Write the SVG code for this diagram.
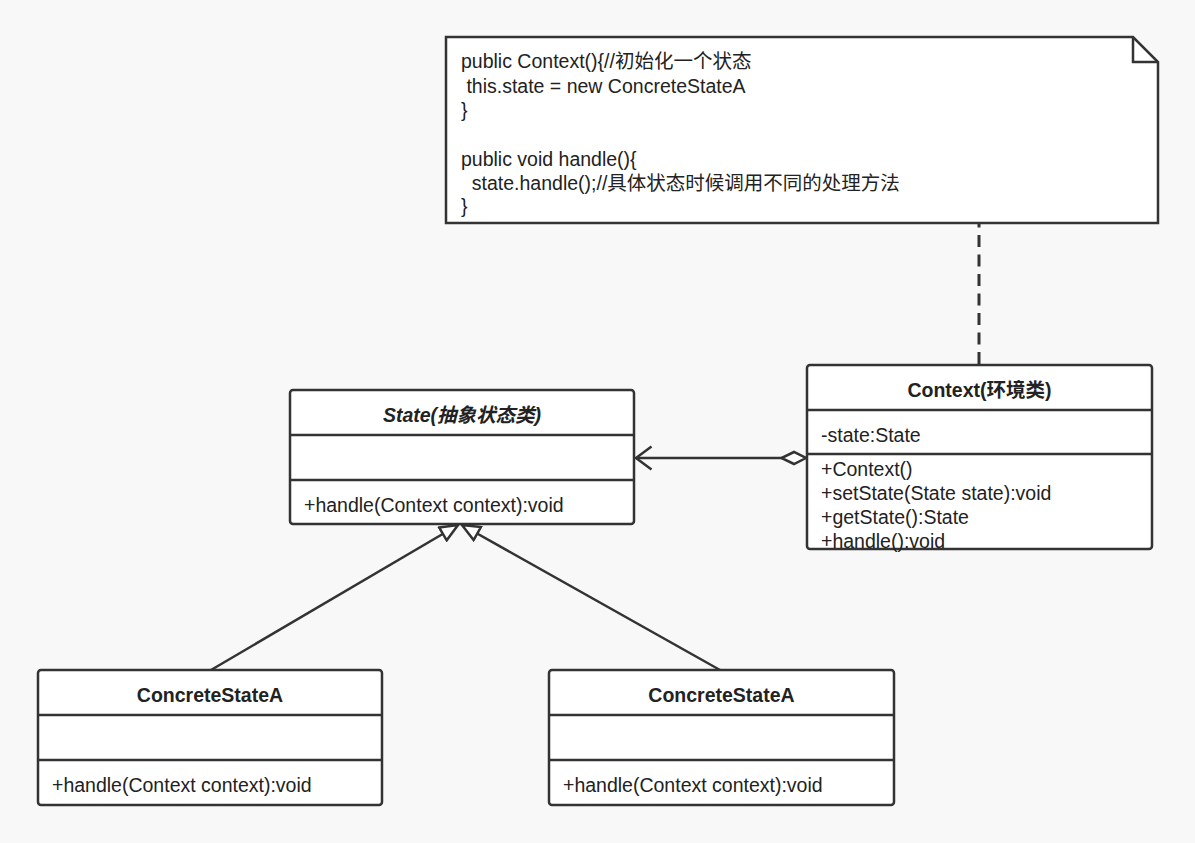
<svg xmlns="http://www.w3.org/2000/svg" width="1195" height="843" viewBox="0 0 1195 843">
<style>
.box{fill:#fff;stroke:#333;stroke-width:2.5}
.sep{stroke:#333;stroke-width:2.5}
text{font-family:"Liberation Sans","Noto Sans CJK SC",Arial,sans-serif;font-size:19.5px;fill:#222;white-space:pre}
.t{font-weight:bold;text-anchor:middle}
.it{font-style:italic}
.ln{fill:none;stroke:#333;stroke-width:2.5}
</style>
<defs>
<marker id="tri" markerWidth="22" markerHeight="18" refX="19" refY="9" orient="auto" markerUnits="userSpaceOnUse">
<path d="M1.5,1.5 L19,9 L1.5,16.5 Z" fill="#fff" stroke="#333" stroke-width="2.5"/>
</marker>
<marker id="open" markerWidth="20" markerHeight="26" refX="17" refY="13" orient="auto" markerUnits="userSpaceOnUse">
<path d="M1.5,1.5 L17,13 L1.5,24.5" fill="none" stroke="#333" stroke-width="2.5"/>
</marker>
<marker id="dia" markerWidth="30" markerHeight="18" refX="1.5" refY="9" orient="auto" markerUnits="userSpaceOnUse">
<path d="M1.5,9 L13.5,3 L26,9 L13.5,15 Z" fill="#fff" stroke="#333" stroke-width="2.5"/>
</marker>
</defs>
<rect width="1195" height="843" fill="#f8f8f8"/>
<g id="connectors">
<line x1="979" y1="224" x2="979" y2="365" stroke="#333" stroke-width="3" stroke-dasharray="12,7.5" stroke-dashoffset="8.5"/>
<line class="ln" x1="806" y1="458" x2="636" y2="458" marker-start="url(#dia)" marker-end="url(#open)"/>
<line class="ln" x1="211" y1="670" x2="458" y2="525" marker-end="url(#tri)"/>
<line class="ln" x1="720" y1="670" x2="462" y2="525" marker-end="url(#tri)"/>
</g>
<g id="note">
<path d="M446,37 L1133,37 L1158,62 L1158,223 L446,223 Z" fill="#fff" stroke="#333" stroke-width="2.5"/>
<path d="M1133,37 L1133,62 L1158,62" fill="none" stroke="#333" stroke-width="2.5"/>
<text x="461" y="68" xml:space="preserve">public Context(){//初始化一个状态</text>
<text x="461" y="93" xml:space="preserve"> this.state = new ConcreteStateA</text>
<text x="461" y="117" xml:space="preserve">}</text>
<text x="461" y="166" xml:space="preserve">public void handle(){</text>
<text x="461" y="190" xml:space="preserve">  state.handle();//具体状态时候调用不同的处理方法</text>
<text x="461" y="213" xml:space="preserve">}</text>
</g>
<g id="context">
<rect class="box" x="807" y="365" width="345" height="184" rx="3"/>
<line class="sep" x1="807" y1="410" x2="1152" y2="410"/>
<line class="sep" x1="807" y1="454" x2="1152" y2="454"/>
<text class="t" x="979.5" y="397">Context(环境类)</text>
<text x="821" y="442">-state:State</text>
<text x="821" y="476">+Context()</text>
<text x="821" y="500">+setState(State state):void</text>
<text x="821" y="524">+getState():State</text>
<text x="821" y="548">+handle():void</text>
</g>
<g id="state">
<rect class="box" x="290" y="390" width="344" height="134" rx="3"/>
<line class="sep" x1="290" y1="435" x2="634" y2="435"/>
<line class="sep" x1="290" y1="480" x2="634" y2="480"/>
<text class="t it" x="462" y="422">State(抽象状态类)</text>
<text x="304" y="512">+handle(Context context):void</text>
</g>
<g id="concreteA1">
<rect class="box" x="38" y="670" width="344" height="135" rx="3"/>
<line class="sep" x1="38" y1="715" x2="382" y2="715"/>
<line class="sep" x1="38" y1="760" x2="382" y2="760"/>
<text class="t" x="210" y="702">ConcreteStateA</text>
<text x="52" y="792">+handle(Context context):void</text>
</g>
<g id="concreteA2">
<rect class="box" x="549" y="670" width="345" height="135" rx="3"/>
<line class="sep" x1="549" y1="715" x2="894" y2="715"/>
<line class="sep" x1="549" y1="760" x2="894" y2="760"/>
<text class="t" x="721.5" y="702">ConcreteStateA</text>
<text x="563" y="792">+handle(Context context):void</text>
</g>
</svg>
